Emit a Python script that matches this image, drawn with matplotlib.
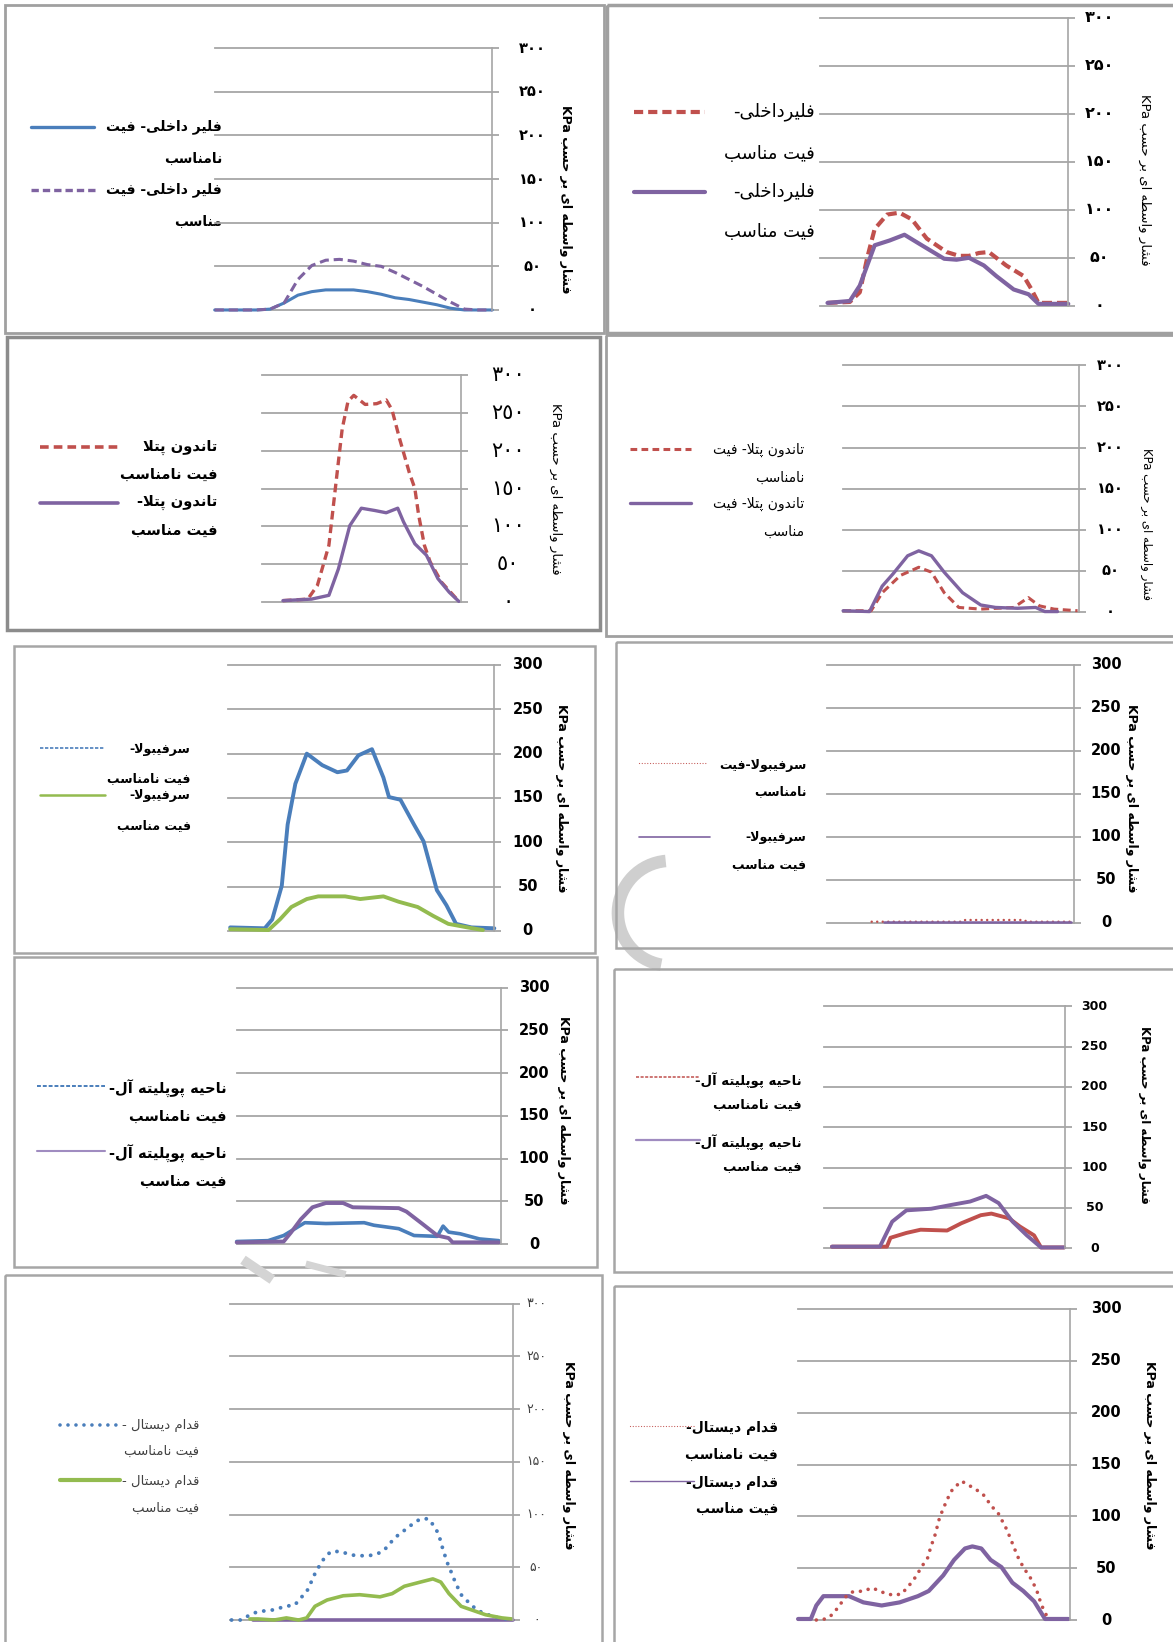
import matplotlib
matplotlib.use("Agg")
import matplotlib.pyplot as plt
from matplotlib.patches import Rectangle, Arc
from matplotlib.transforms import blended_transform_factory

plt.rcParams['font.family'] = ['DejaVu Sans']

# ---------------- data: interface pressure (KPa) along the stance (0-100) ----------------
# panel 1 - فلیر داخلی
p1_x = [0, 5, 10, 15, 20, 25, 30, 35, 40, 45, 50, 55, 60, 65, 70, 75, 80, 85, 90, 95, 100]
p1_bad = [0, 0, 0, 0, 1, 8, 17, 21, 23, 23, 23, 21, 18, 14, 12, 9, 6, 2, 0, 0, 0]
p1_good = [0, 0, 0, 0, 1, 8, 35, 51, 57, 58, 56, 52, 50, 43, 35, 27, 18, 9, 1, 0, 0]

# panel 2 - فلیرداخلی
p2_red_x = [3, 12, 16, 19, 22, 27, 32, 37, 43, 51, 56, 60, 64, 68, 75, 82, 85, 88, 100]
p2_red = [3, 4, 14, 50, 80, 95, 97, 90, 70, 56, 52, 52, 55, 56, 42, 31, 18, 3, 3]
p2_pur_x = [3, 12, 16, 22, 28, 34, 41, 50, 55, 60, 66, 71, 78, 84, 88, 100]
p2_pur = [3, 5, 21, 63, 68, 74, 63, 49, 48, 50, 42, 31, 17, 12, 2, 2]

# panel 3 - تاندون پتلا
p3_bad_x = [10.6, 23.1, 27.9, 33.7, 37.5, 40.4, 43.3, 46.2, 51.9, 57.7, 62.5, 65.4, 69.2,
            74, 76.9, 78.8, 81.7, 84.6, 90.4, 99]
p3_bad = [2, 4, 22, 75, 163, 229, 265, 273, 261, 262, 267, 254, 216, 172, 150, 115, 75, 53, 26, 1]
p3_good_x = [10.6, 25, 33.7, 38.5, 44.2, 50, 56.7, 62.5, 68.3, 71.2, 76.9, 82.7, 88.5, 94.2, 99]
p3_good = [2, 4, 9, 44, 101, 124, 121, 118, 124, 106, 77, 62, 31, 13, 1]

# panel 4 - تاندون پتلا
p4_bad_x = [0, 11.9, 16.6, 24.3, 32.1, 37.5, 42.9, 49.1, 58.4, 72.4, 78.6, 83.3, 89.5, 99.5]
p4_bad = [1, 1, 23, 44, 54, 48, 23, 5, 3, 5, 17, 7, 3, 1]
p4_good_x = [0, 11.2, 16.6, 21.2, 27.4, 32.1, 37.5, 42.9, 50.7, 58.4, 64.7, 74, 81.7, 85.6, 91]
p4_good = [1, 0, 31, 46, 68, 74, 68, 48, 23, 8, 5, 4, 5, 0, 0]

# panel 5 - سرفیبولا
p5_bad_x = [0.7, 13.7, 16.5, 20.1, 22.3, 25.2, 29.5, 35.3, 41, 44.6, 48.9, 54, 58.3, 60.4,
            64.7, 69.8, 73.4, 78.4, 82, 85.6, 91.4, 100]
p5_bad = [4, 3, 13, 51, 120, 166, 200, 187, 179, 181, 198, 205, 173, 151, 148, 120, 101,
          46, 29, 8, 4, 3]
p5_good_x = [0.7, 15.1, 19.4, 23.7, 29.5, 33.8, 43.9, 49.6, 58.3, 64, 71.2, 77, 82.7, 89.9, 95.7]
p5_good = [2, 1, 13, 27, 36, 39, 39, 36, 39, 33, 27, 17, 8, 4, 1]

# panel 6 - سرفیبولا
p6_bad_x = [18, 23, 55, 56, 80, 81, 99]
p6_bad = [1, 1, 1, 3, 3, 1, 1]
p6_good_x = [23, 50, 99]
p6_good = [1, 1, 1]

# panel 7 - ناحیه پوپلیته آل
p7_bad_x = [0, 11.9, 17.8, 22.1, 25.8, 33.8, 48.3, 52, 61.4, 67.2, 76, 78.2, 80.3, 84.7, 92, 99.3]
p7_bad = [3, 4, 10, 18, 25, 24, 25, 22, 18, 10, 9, 21, 14, 12, 6, 4]
p7_good_x = [0, 17.8, 20.7, 24.3, 28.7, 33.8, 40.3, 44, 61.4, 64.3, 70.2, 76, 80.3, 81.8, 99.3]
p7_good = [2, 3, 14, 29, 43, 48, 48, 43, 42, 38, 24, 10, 7, 2, 2]

# panel 8 - ناحیه پوپلیته آل
p8_bad_x = [3.2, 26, 27.5, 34.1, 40, 51, 56.9, 65, 69.4, 76.8, 81.2, 87.1, 90, 99.6]
p8_bad = [2, 2, 13, 19, 23, 22, 31, 41, 43, 37, 27, 16, 1, 1]
p8_good_x = [3.2, 23.1, 28.2, 34.1, 44.4, 53.2, 60.6, 67.2, 72.4, 78.2, 84.1, 90, 99.6]
p8_good = [2, 2, 33, 47, 49, 54, 58, 65, 56, 33, 16, 1, 1]

# panel 9 - قدام دیستال
p9_bad_x = [0.4, 4, 6.9, 9.8, 13.4, 16.2, 19.1, 22.7, 24.9, 27, 28.4, 29.9, 31.6, 33.5, 35.6,
            39.2, 42.1, 45, 48.6, 51.4, 54.3, 56.5, 58.6, 61.5, 64.4, 67.2, 70.1, 72.3, 73.7,
            74.7, 76.6, 78, 79.5, 81.6, 84.5, 87.4, 90.2, 93.1, 97.4]
p9_bad = [0, 0, 5, 8, 9, 10, 13, 14, 21, 27, 35, 44, 52, 60, 65, 65, 62, 61, 61, 62, 66, 73,
          79, 85, 91, 96, 96, 88, 81, 71, 55, 46, 36, 24, 16, 9, 6, 3, 1]
p9_good_x = [6.9, 9.8, 15.5, 19.8, 24.1, 27, 29.9, 34.2, 39.9, 45.7, 52.9, 57.2, 61.5, 67.2,
             71.6, 74.4, 77.3, 81.6, 85.9, 90.2, 96, 99.6]
p9_good = [1, 1, 0, 2, 0, 2, 13, 19, 23, 24, 22, 25, 32, 36, 39, 36, 25, 13, 9, 5, 2, 1]
p9_base_x = [8, 100]
p9_base = [0, 0]

# panel 10 - قدام دیستال
p10_bad_x = [6.7, 10, 12, 14.7, 17.3, 20, 24, 27.3, 30.7, 34.7, 38, 41.3, 43.3, 45.3, 47.6,
             48.7, 50.3, 52, 54.7, 56.7, 60, 62.7, 65.3, 68, 71.3, 73.3, 76.7, 78.7, 80.7,
             82.7, 86, 88, 89.3, 91.3, 93.3]
p10_bad = [0, 1, 4, 12, 22, 27, 28, 31, 27, 24, 25, 35, 42, 51, 60, 70, 82, 99, 116, 126,
           134, 130, 126, 121, 109, 104, 87, 74, 61, 51, 38, 26, 15, 4, 1]
p10_good_x = [0, 4.7, 6.7, 9.3, 18.7, 24, 30.7, 37.3, 44, 48, 53.3, 57.3, 61.3, 64, 67.3,
              70.7, 74.7, 78.7, 82.7, 86.7, 90.7, 99.3]
p10_good = [1, 1, 14, 23, 23, 17, 14, 17, 23, 28, 43, 58, 69, 71, 69, 58, 51, 36, 28, 18, 1, 1]

y_ticks = [0, 50, 100, 150, 200, 250, 300]
ticks_fa = ['۰', '۵۰', '۱۰۰', '۱۵۰', '۲۰۰', '۲۵۰', '۳۰۰']
ticks_ar = ['٠', '٥٠', '١٠٠', '١٥٠', '٢٠٠', '٢٥٠', '٣٠٠']
ticks_en = ['0', '50', '100', '150', '200', '250', '300']
y_title = 'فشار واسطه ای بر حسب'

# ---------------- Persian shaping (matplotlib has no complex text layout) ----------------
FORMS = {
    '\u0627': ('\uFE8D', '\uFE8E'), '\u0622': ('\uFE81', '\uFE82'),
    '\u062F': ('\uFEA9', '\uFEAA'), '\u0631': ('\uFEAD', '\uFEAE'),
    '\u0648': ('\uFEED', '\uFEEE'),
    '\u0628': ('\uFE8F', '\uFE90', '\uFE91', '\uFE92'),
    '\u067E': ('\uFB56', '\uFB57', '\uFB58', '\uFB59'),
    '\u062A': ('\uFE95', '\uFE96', '\uFE97', '\uFE98'),
    '\u062D': ('\uFEA1', '\uFEA2', '\uFEA3', '\uFEA4'),
    '\u062E': ('\uFEA5', '\uFEA6', '\uFEA7', '\uFEA8'),
    '\u0633': ('\uFEB1', '\uFEB2', '\uFEB3', '\uFEB4'),
    '\u0634': ('\uFEB5', '\uFEB6', '\uFEB7', '\uFEB8'),
    '\u0637': ('\uFEC1', '\uFEC2', '\uFEC3', '\uFEC4'),
    '\u0641': ('\uFED1', '\uFED2', '\uFED3', '\uFED4'),
    '\u0642': ('\uFED5', '\uFED6', '\uFED7', '\uFED8'),
    '\u0644': ('\uFEDD', '\uFEDE', '\uFEDF', '\uFEE0'),
    '\u0645': ('\uFEE1', '\uFEE2', '\uFEE3', '\uFEE4'),
    '\u0646': ('\uFEE5', '\uFEE6', '\uFEE7', '\uFEE8'),
    '\u0647': ('\uFEE9', '\uFEEA', '\uFEEB', '\uFEEC'),
    '\u06CC': ('\uFEEF', '\uFEF0', '\uFEF3', '\uFEF4'),
    '\u064A': ('\uFEEF', '\uFEF0', '\uFEF3', '\uFEF4'),
}
LAM_ALEF = {'\u0627': ('\uFEFB', '\uFEFC'), '\u0622': ('\uFEF5', '\uFEF6')}


def fa(text):
    out = []
    prev_dual = False
    i = 0
    while i < len(text):
        c = text[i]
        nxt = text[i + 1] if i + 1 < len(text) else ''
        if c == '\u0644' and nxt in LAM_ALEF:
            out.append(LAM_ALEF[nxt][1] if prev_dual else LAM_ALEF[nxt][0])
            prev_dual = False
            i += 2
            continue
        if c in FORMS:
            f = FORMS[c]
            join_next = len(f) == 4 and nxt in FORMS
            if prev_dual and join_next:
                out.append(f[3])
            elif prev_dual:
                out.append(f[1])
            elif join_next:
                out.append(f[2])
            else:
                out.append(f[0])
            prev_dual = len(f) == 4
        else:
            if c != '\u200c':
                out.append(c)
            prev_dual = False
        i += 1
    return ''.join(reversed(out))


BLUE = '#4a7ebb'
RED = '#c0504d'
PURPLE = '#7f63a1'
GREEN = '#93bb4f'
DOT = 'dot'

# ---------------- layout (pixel coords of the 1120x1568 preview) ----------------
panels = [
    dict(frame=(5, 5, 577, 318), plot=(205, 470, 46, 296), fcol='#a0a0a0', flw=2,
         series=[(p1_x, p1_bad, BLUE, 2.2, None), (p1_x, p1_good, PURPLE, 2.2, (3, 1.6))],
         ticks=ticks_fa, tick_x=508, tick_fs=10.5, tick_w='bold',
         ylab=(540, 190, 9, 'bold'),
         legend=[((30, 90, 121), BLUE, 2.4, None, 212,
                  [('فلیر داخلی- فیت', 121), ('نامناسب', 152)]),
                 ((30, 92, 181), PURPLE, 2.4, (2.2, 1.2), 212,
                  [('فلیر داخلی- فیت', 181), ('مناسب', 212)])],
         lfs=10, lw_txt='bold'),
    dict(frame=(580, 5, 1125, 318), plot=(783, 1020, 17, 292), fcol='#a0a0a0', flw=2.5,
         series=[(p2_red_x, p2_red, RED, 3, (2.4, 1.2)), (p2_pur_x, p2_pur, PURPLE, 3, None)],
         ticks=ticks_fa, tick_x=1050, tick_fs=11.5, tick_w='bold',
         ylab=(1093, 172, 9.5, 'normal'),
         legend=[((605, 673, 107), RED, 3, (2.2, 1.2), 778,
                  [('فلیرداخلی-', 107), ('فیت مناسب', 147)]),
                 ((605, 673, 183), PURPLE, 3, None, 778,
                  [('فلیرداخلی-', 183), ('فیت مناسب', 222)])],
         lfs=13, lw_txt='normal'),
    dict(frame=(7, 322, 573, 602), plot=(250, 440, 358, 575), fcol='#8c8c8c', flw=2.5,
         series=[(p3_bad_x, p3_bad, RED, 2.4, (2.6, 1.5)), (p3_good_x, p3_good, PURPLE, 2.4, None)],
         ticks=ticks_ar, tick_x=485, tick_fs=15, tick_w='normal',
         ylab=(530, 467, 9.5, 'normal'),
         legend=[((38, 113, 427), RED, 2.6, (2.4, 1.4), 208,
                  [('تاندون پتلا', 427), ('فیت نامناسب', 453)]),
                 ((38, 113, 480), PURPLE, 2.6, None, 208,
                  [('تاندون پتلا-', 480), ('فیت مناسب', 506)])],
         lfs=10.5, lw_txt='bold'),
    dict(frame=(579, 320, 1125, 607), plot=(805, 1030, 349, 584), fcol='#a0a0a0', flw=2,
         series=[(p4_bad_x, p4_bad, RED, 2.2, (2.6, 1.5)), (p4_good_x, p4_good, PURPLE, 2.4, None)],
         ticks=ticks_fa, tick_x=1060, tick_fs=10.5, tick_w='bold',
         ylab=(1095, 500, 8.5, 'normal'),
         legend=[((602, 660, 429), RED, 2.2, (2.2, 1.4), 768,
                  [('تاندون پتلا- فیت', 430), ('نامناسب', 456)]),
                 ((602, 660, 480), PURPLE, 2.4, None, 768,
                  [('تاندون پتلا- فیت', 481), ('مناسب', 508)])],
         lfs=10, lw_txt='normal'),
    dict(frame=(13, 617, 568, 910), plot=(218, 472, 635, 889), fcol='#a6a6a6', flw=1.8,
         series=[(p5_bad_x, p5_bad, BLUE, 2.8, None), (p5_good_x, p5_good, GREEN, 2.8, None)],
         ticks=ticks_en, tick_x=504, tick_fs=10.5, tick_w='bold',
         ylab=(536, 762, 9, 'bold'),
         legend=[((38, 100, 714), BLUE, 1.2, (2, 1), 182,
                  [('سرفیبولا-', 716), ('فیت نامناسب', 743)]),
                 ((38, 100, 759), GREEN, 1.8, None, 182,
                  [('سرفیبولا-', 760), ('فیت مناسب', 788)])],
         lfs=9, lw_txt='bold'),
    dict(frame=(588, 613, 1125, 905), plot=(790, 1025, 635, 881), fcol='#a6a6a6', flw=1.8,
         series=[(p6_bad_x, p6_bad, RED, 1.8, DOT), (p6_good_x, p6_good, PURPLE, 1.8, None)],
         ticks=ticks_en, tick_x=1056, tick_fs=10.5, tick_w='bold',
         ylab=(1080, 762, 9, 'bold'),
         legend=[((610, 675, 729), RED, 0.9, DOT, 770,
                  [('سرفیبولا-فیت', 731), ('نامناسب', 756)]),
                 ((610, 678, 799), PURPLE, 1.2, None, 770,
                  [('سرفیبولا-', 800), ('فیت مناسب', 826)])],
         lfs=9, lw_txt='bold'),
    dict(frame=(13, 914, 570, 1210), plot=(226, 478, 943, 1188), fcol='#a6a6a6', flw=1.8,
         series=[(p7_bad_x, p7_bad, BLUE, 2.6, None), (p7_good_x, p7_good, PURPLE, 2.8, None)],
         ticks=ticks_en, tick_x=510, tick_fs=10.5, tick_w='bold',
         ylab=(538, 1060, 9, 'bold'),
         legend=[((35, 100, 1037), BLUE, 1.4, (2, 1), 216,
                  [('ناحیه پوپلیته آل-', 1040), ('فیت نامناسب', 1066)]),
                 ((35, 100, 1099), '#a08cc0', 1.5, None, 216,
                  [('ناحیه پوپلیته آل-', 1102), ('فیت مناسب', 1128)])],
         lfs=10.5, lw_txt='bold'),
    dict(frame=(586, 925, 1125, 1215), plot=(787, 1017, 961, 1192), fcol='#a6a6a6', flw=1.8,
         series=[(p8_bad_x, p8_bad, RED, 2.8, None), (p8_good_x, p8_good, PURPLE, 2.8, None)],
         ticks=ticks_en, tick_x=1045, tick_fs=9, tick_w='bold',
         ylab=(1093, 1065, 8.5, 'bold'),
         legend=[((607, 668, 1028), RED, 1.1, (2, 1), 765,
                  [('ناحیه پوپلیته آل-', 1031), ('فیت نامناسب', 1055)]),
                 ((607, 668, 1089), '#a08cc0', 1.6, None, 765,
                  [('ناحیه پوپلیته آل-', 1091), ('فیت مناسب', 1114)])],
         lfs=9.5, lw_txt='bold'),
    dict(frame=(5, 1218, 575, 1575), plot=(220, 490, 1245, 1547), fcol='#a6a6a6', flw=1.8,
         series=[(p9_base_x, p9_base, PURPLE, 2.6, None), (p9_bad_x, p9_bad, BLUE, 2.8, DOT),
                 (p9_good_x, p9_good, GREEN, 2.6, None)],
         ticks=ticks_fa, tick_x=512, tick_fs=9, tick_w='normal', tick_c='#404040',
         ylab=(543, 1390, 9, 'bold'),
         legend=[((57, 112, 1361), BLUE, 2.6, DOT, 190,
                  [('قدام دیستال -', 1361), ('فیت نامناسب', 1386)]),
                 ((57, 115, 1413), GREEN, 3, None, 190,
                  [('قدام دیستال -', 1415), ('فیت مناسب', 1440)])],
         lfs=9.5, lw_txt='normal', ltc='#404040'),
    dict(frame=(586, 1228, 1125, 1575), plot=(762, 1022, 1250, 1547), fcol='#a6a6a6', flw=1.8,
         series=[(p10_good_x, p10_good, PURPLE, 3, None), (p10_bad_x, p10_bad, RED, 2.6, DOT)],
         ticks=ticks_en, tick_x=1056, tick_fs=10.5, tick_w='bold',
         ylab=(1098, 1390, 9, 'bold'),
         legend=[((602, 663, 1362), RED, 0.9, DOT, 743,
                  [('قدام دیستال-', 1364), ('فیت نامناسب', 1389)]),
                 ((602, 663, 1414), PURPLE, 1, None, 743,
                  [('قدام دیستال-', 1416), ('فیت مناسب', 1441)])],
         lfs=10, lw_txt='bold'),
]

fig = plt.figure(figsize=(11.73, 16.42), dpi=100)
fig.patch.set_facecolor('white')
bg = fig.add_axes([0, 0, 1, 1], zorder=0)
bg.set_xlim(0, 1120)
bg.set_ylim(1568, 0)
bg.axis('off')

# faint watermark pieces behind the charts
bg.add_patch(Arc((640, 872), 100, 100, theta1=100, theta2=265, color='#cfcfcf', lw=9))
bg.plot([232, 260], [1203, 1222], color='#d4d4d4', lw=7, solid_capstyle='butt')
bg.plot([292, 330], [1207, 1217], color='#d4d4d4', lw=5, solid_capstyle='butt')


def style_kw(dash, lw):
    if dash is None:
        return dict(ls='-', solid_capstyle='round')
    if dash == DOT:
        return dict(ls=(0, (0.01, 2.2)), dash_capstyle='round')
    return dict(ls=(0, dash), dash_capstyle='butt')


for p in panels:
    fx0, fy0, fx1, fy1 = p['frame']
    bg.add_patch(Rectangle((fx0, fy0), fx1 - fx0, fy1 - fy0, fill=False,
                           ec=p['fcol'], lw=p['flw']))

    x0, x1, ytop, ybot = p['plot']
    ax = fig.add_axes([x0 / 1120, 1 - ybot / 1568, (x1 - x0) / 1120, (ybot - ytop) / 1568],
                      zorder=2)
    ax.patch.set_alpha(0)
    ax.set_xlim(0, 100)
    ax.set_ylim(0, 300)
    for side in ['top', 'left', 'bottom']:
        ax.spines[side].set_visible(False)
    ax.spines['right'].set_color('#a6a6a6')
    ax.spines['right'].set_linewidth(1.2)
    ax.set_xticks([])
    ax.set_yticks(y_ticks)
    ax.tick_params(axis='y', left=False, right=True, labelleft=False, labelright=False,
                   direction='out', length=5, width=1.3, color='#a6a6a6')
    ax.yaxis.grid(True, color='#a6a6a6', lw=1.3)
    for gl in ax.get_ygridlines():
        gl.set_clip_on(False)

    for sx, sy, col, lw, dash in p['series']:
        ax.plot(sx, sy, color=col, lw=lw, clip_on=False, **style_kw(dash, lw))

    tr = blended_transform_factory(bg.transData, ax.transData)
    for val, lab in zip(y_ticks, p['ticks']):
        ax.text(p['tick_x'], val, lab, transform=tr, ha='center', va='center',
                fontsize=p['tick_fs'], fontweight=p['tick_w'], color=p.get('tick_c', 'black'))

    lx, ly, lfs, lwt = p['ylab']
    bg.text(lx, ly, 'KPa ' + fa(y_title), rotation=-90, ha='center', va='center',
            fontsize=lfs, fontweight=lwt)

    for (a, b, yy), col, lw, dash, tx, rows in p['legend']:
        bg.plot([a, b], [yy, yy], color=col, lw=lw, **style_kw(dash, lw))
        for txt, ty in rows:
            bg.text(tx, ty, fa(txt), ha='right', va='center', fontsize=p['lfs'],
                    fontweight=p['lw_txt'], color=p.get('ltc', 'black'))

fig.savefig('out.png', dpi=100, facecolor='white')
